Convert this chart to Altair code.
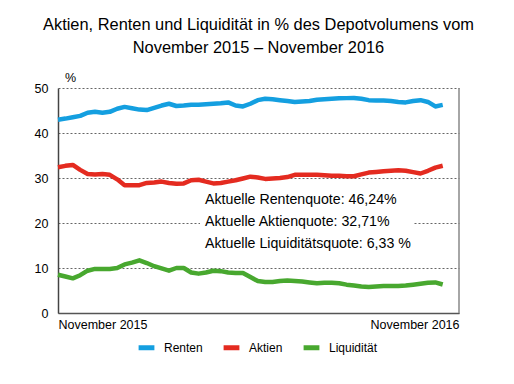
import altair as alt
import pandas as pd

FONT = "'Liberation Sans', Arial, sans-serif"

weeks = list(range(53))
renten = [42.96, 43.2, 43.5, 43.8, 44.5, 44.7, 44.5, 44.7, 45.4, 45.8,
          45.5, 45.2, 45.1, 45.6, 46.1, 46.5, 46.0, 46.1, 46.3, 46.3,
          46.4, 46.5, 46.6, 46.8, 46.1, 45.9, 46.5, 47.3, 47.6, 47.5,
          47.3, 47.1, 46.9, 47.0, 47.1, 47.4, 47.5, 47.6, 47.7, 47.75,
          47.8, 47.6, 47.3, 47.2, 47.2, 47.1, 46.9, 46.8, 47.1, 47.3,
          46.9, 45.9, 46.24]
aktien = [32.4, 32.7, 32.9, 31.8, 30.9, 30.8, 30.9, 30.7, 29.7, 28.4,
          28.4, 28.4, 28.9, 29.0, 29.2, 28.9, 28.7, 28.8, 29.5, 29.6,
          29.2, 28.8, 28.9, 29.2, 29.5, 29.9, 30.3, 30.1, 29.8, 29.9,
          30.0, 30.2, 30.7, 30.7, 30.7, 30.7, 30.6, 30.5, 30.5, 30.4,
          30.4, 30.8, 31.2, 31.35, 31.5, 31.6, 31.7, 31.6, 31.3, 31.0,
          31.6, 32.3, 32.71]
liquiditaet = [8.5, 8.1, 7.7, 8.4, 9.4, 9.8, 9.8, 9.8, 10.0, 10.8,
               11.2, 11.7, 11.1, 10.4, 9.9, 9.4, 10.0, 10.0, 9.0, 8.75,
               9.0, 9.4, 9.3, 9.0, 8.9, 8.9, 8.0, 7.1, 6.9, 6.9,
               7.1, 7.2, 7.1, 7.0, 6.8, 6.6, 6.7, 6.7, 6.6, 6.3,
               6.1, 5.9, 5.8, 5.9, 6.0, 6.0, 6.0, 6.1, 6.3, 6.5,
               6.7, 6.8, 6.33]

series_names = ["Renten", "Aktien", "Liquidität"]
series_colors = ["#149fe0", "#e42b20", "#48a82f"]
x_tick_labels = ["November 2015", "November 2016"]
y_ticks = [0, 10, 20, 30, 40, 50]
annotation_lines = ["Aktuelle Rentenquote: 46,24%",
                    "Aktuelle Aktienquote: 32,71%",
                    "Aktuelle Liquiditätsquote: 6,33 %"]
title_lines = ["Aktien, Renten und Liquidität in % des Depotvolumens vom",
               "November 2015 – November 2016"]

rows = []
for name, vals in zip(series_names, [renten, aktien, liquiditaet]):
    for w, v in zip(weeks, vals):
        rows.append({"Woche": w, "Wert": v, "Serie": name})
df = pd.DataFrame(rows)

X_MAX = 54.2
label_expr = f"datum.value == 0 ? '{x_tick_labels[0]}' : '{x_tick_labels[1]}'"

lines = alt.Chart(df).mark_line(strokeWidth=4.5, strokeJoin="round").encode(
    x=alt.X("Woche:Q",
            scale=alt.Scale(domain=[0, X_MAX], nice=False, zero=False),
            axis=alt.Axis(values=[0, X_MAX], labelExpr=label_expr, grid=False,
                          ticks=False, labelFlush=True, title=None,
                          labelFont=FONT, labelFontSize=12.5, labelColor="#000",
                          labelPadding=5, domainColor="#555", domainWidth=1.5)),
    y=alt.Y("Wert:Q",
            scale=alt.Scale(domain=[0, 50], nice=False),
            axis=alt.Axis(values=y_ticks, grid=True, gridDash=[2, 2],
                          gridColor="#666", ticks=False, labelPadding=10,
                          labelFont=FONT, labelFontSize=12.5, labelColor="#000",
                          domainColor="#444", domainWidth=1.5,
                          title="%", titleAngle=0, titleX=12, titleY=-7,
                          titleFont=FONT, titleFontSize=12.5,
                          titleFontWeight="normal", titleColor="#000",
                          titleAlign="center", titleBaseline="alphabetic")),
    color=alt.Color("Serie:N",
                    scale=alt.Scale(domain=series_names, range=series_colors),
                    sort=series_names,
                    legend=alt.Legend(orient="none", legendX=78, legendY=249,
                                      direction="horizontal",
                                      title=None, symbolType="stroke",
                                      symbolStrokeWidth=5, symbolSize=250,
                                      labelFont=FONT, labelFontSize=12,
                                      labelColor="#000", columnPadding=10,
                                      labelOffset=7)),
)

bg = alt.Chart().mark_rect(color="white").encode(
    x=alt.value(142), x2=alt.value(355), y=alt.value(102), y2=alt.value(167))

annot = alt.Chart().mark_text(
    text=annotation_lines, align="left", baseline="middle", font=FONT,
    fontSize=14.2, lineHeight=22, color="#000"
).encode(x=alt.value(147), y=alt.value(112))

right_border = alt.Chart().mark_rule(color="#888", strokeWidth=1.5).encode(
    x=alt.value(401), y=alt.value(0), y2=alt.value(225))

chart = alt.layer(bg, lines, annot, right_border).properties(
    width=401, height=225,
    title=alt.TitleParams(text=title_lines, font=FONT, fontSize=16.4,
                          fontWeight="normal", lineHeight=23, offset=15,
                          anchor="middle", color="#000"),
    autosize=alt.AutoSizeParams(type="none"),
    padding={"left": 50, "top": 80, "right": 40, "bottom": 60},
).configure_view(stroke=None)

chart.save("out.html", embed_options={"renderer": "svg", "actions": False})
